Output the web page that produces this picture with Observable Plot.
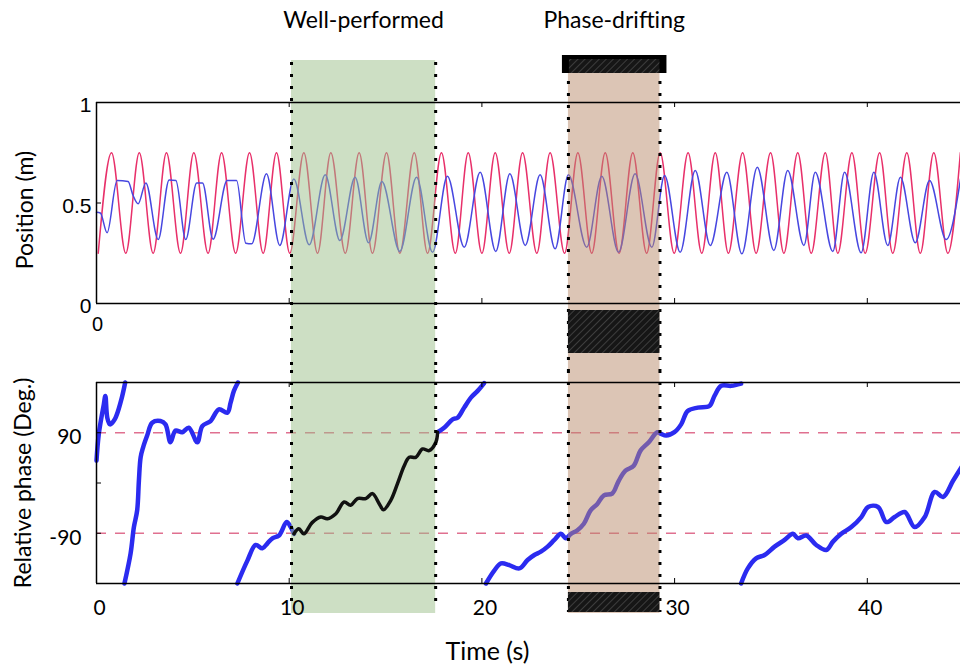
<!DOCTYPE html>
<html><head><meta charset="utf-8">
<script src="https://cdn.jsdelivr.net/npm/d3@7"></script>
<script src="https://cdn.jsdelivr.net/npm/@observablehq/plot@0.6"></script>
<style>
body{margin:0;background:#fff;}
#chart{width:960px;}
#chart svg{display:block;overflow:visible;}
</style></head><body>
<svg width="0" height="0" style="position:absolute">
<defs>
<pattern id="hatch" width="5" height="5" patternUnits="userSpaceOnUse" patternTransform="rotate(45)">
<rect width="5" height="5" fill="#161616"/>
<line x1="0" y1="0" x2="0" y2="5" stroke="#474747" stroke-width="1.6"/>
</pattern></defs></svg>
<div id="chart"></div>
<script>
// ---------- data ----------
const regionNames = ["Well-performed", "Phase-drifting"];
const regionStart = [10.12, 24.49];
const regionEnd = [17.6, 29.24];
const regionColors = ["#9bbf89", "#b98b6b"];

const xTicks = [0, 10, 20, 30, 40];
const posTicks = [0, 0.5, 1];
const phaseTicks = [-90, 0, 90];
const phaseTickLabels = [-90, 90];
const refLevels = [-90, 90];

// reference (red) extrema times (s) and levels (m)
const redPeakT = [0.78,2.22,3.63,5.05,6.49,7.94,9.34,10.76,12.16,13.63,15.05,16.49,17.90,19.29,20.69,22.11,23.54,24.98,26.40,27.83,29.25,30.70,32.11,33.53,34.98,36.39,37.82,39.20,40.64,42.05,43.45,44.83];
const redTroughT = [0.09,1.52,2.94,4.36,5.79,7.22,8.65,10.03,11.47,12.91,14.32,15.74,17.18,18.62,20.00,21.42,22.85,24.29,25.70,27.12,28.55,29.98,31.41,32.79,34.23,35.67,37.09,38.47,39.89,41.32,42.75,44.18];
const redLevels = [0.25, 0.75];

// actual (blue) position extrema
const blueT = [0,0.2,0.55,1.07,1.64,1.90,2.16,2.56,3.2,3.77,4.12,4.63,5.2,5.5,6.05,6.78,7.27,7.75,8.05,8.82,9.51,10.24,11.04,11.87,12.63,13.42,14.12,14.81,15.74,16.61,17.44,18.21,19.08,19.91,20.72,21.45,22.25,23.02,23.8,24.49,25.44,26.22,27.09,27.95,28.82,29.48,30.29,31.07,31.85,32.71,33.49,34.29,35.15,35.87,36.71,37.30,38.21,38.82,39.68,40.34,41.06,41.72,42.49,43.23,44.09,44.84];
const blueV = [0.454,0.45,0.352,0.612,0.607,0.537,0.496,0.60,0.318,0.615,0.612,0.318,0.60,0.60,0.32,0.612,0.612,0.30,0.297,0.645,0.289,0.62,0.292,0.64,0.313,0.628,0.302,0.607,0.259,0.628,0.255,0.633,0.28,0.653,0.259,0.645,0.289,0.64,0.272,0.64,0.28,0.633,0.255,0.645,0.28,0.637,0.255,0.662,0.289,0.653,0.247,0.678,0.264,0.662,0.289,0.653,0.259,0.653,0.252,0.653,0.289,0.628,0.302,0.612,0.318,0.62];

// relative phase segments [time s, deg]
const phaseSeg1 = [[0,40],[0.12,88],[0.38,141],[0.46,156],[0.56,117],[0.70,105],[0.96,115],[1.27,147],[1.49,180]];
const phaseSeg2 = [[1.45,-180],[1.77,-126],[1.94,-79],[2.11,-49],[2.2,4],[2.29,46],[2.42,64],[2.63,85],[2.89,108],[3.32,111],[3.58,105],[3.84,73],[4.10,94],[4.45,91],[4.79,99],[5.23,73],[5.49,102],[5.92,111],[6.35,132],[6.79,126],[6.96,144],[7.13,165],[7.34,180]];
const phaseSeg3a = [[7.31,-180],[7.83,-139],[8.26,-111],[8.61,-117],[8.87,-108],[9.13,-99],[9.47,-94],[9.87,-70],[10.08,-79],[10.25,-91]];
const phaseWell = [[10.25,-91],[10.5,-82],[10.76,-91],[11.19,-71],[11.64,-61],[11.98,-64],[12.42,-55],[12.85,-34],[13.19,-40],[13.54,-28],[13.97,-28],[14.32,-19],[14.67,-37],[14.89,-48],[15.27,-31],[15.62,-1],[15.97,31],[16.23,46],[16.57,46],[16.92,61],[17.26,58],[17.61,73],[17.7,91]];
const phaseSeg3b = [[17.7,91],[18.04,99],[18.48,114],[18.74,117],[19.08,135],[19.43,153],[19.78,165],[20.12,179]];
const phaseSeg4 = [[20.21,-180],[20.64,-157],[20.99,-144],[21.42,-147],[21.94,-153],[22.37,-138],[22.72,-129],[23.06,-123],[23.41,-114],[23.76,-102],[24.10,-91],[24.36,-99],[24.62,-91],[24.94,-85],[25.29,-73],[25.64,-49],[25.98,-38],[26.33,-22],[26.76,-19],[27.10,4],[27.45,22],[27.88,31],[28.23,58],[28.66,73],[29.10,91],[29.30,88],[29.56,85],[29.99,91],[30.34,105],[30.68,129],[31.20,135],[31.81,138],[32.07,156],[32.42,174],[32.94,174],[33.45,178]];
const phaseSeg5 = [[33.45,-180],[33.80,-153],[34.23,-135],[34.67,-129],[35.19,-114],[35.71,-102],[36.14,-91],[36.40,-99],[36.83,-94],[37.35,-111],[37.87,-120],[38.22,-105],[38.65,-91],[39.17,-79],[39.69,-61],[40.04,-43],[40.56,-43],[40.99,-70],[41.42,-61],[41.94,-52],[42.46,-79],[42.98,-61],[43.50,-16],[43.93,-25],[44.45,4],[44.88,28]];

// ---------- tables ----------
const regions = regionNames.map((n, i) => ({name: n, start: regionStart[i], end: regionEnd[i], color: regionColors[i], mid: (regionStart[i] + regionEnd[i]) / 2}));
const green = [regions[0]], brown = [regions[1]];
const redSeries = [...redPeakT.map(t => ({t, v: redLevels[1]})), ...redTroughT.map(t => ({t, v: redLevels[0]}))].sort((a, b) => a.t - b.t);
const blueSeries = blueT.map((t, i) => ({t, v: blueV[i]}));
const blueSegs = [phaseSeg1, phaseSeg2, phaseSeg3a, phaseSeg3b, phaseSeg4, phaseSeg5]
  .flatMap((s, k) => s.map(([t, v]) => ({t, v, k})));
const wellSeg = phaseWell.map(([t, v]) => ({t, v}));

const xDomain = [0, (960 - 96) / 19.27];
const FONT = "Lato, 'Open Sans', sans-serif";
const ARIAL = "'Liberation Sans', Arial, sans-serif";
const BLUE_PH = "#2b2bf0";

// ---------- top panel ----------
const topPlot = Plot.plot({
  width: 960, height: 370,
  marginTop: 102, marginBottom: 67, marginLeft: 96, marginRight: 0,
  x: {domain: xDomain, axis: null},
  y: {domain: [0, 1], axis: null},
  color: {type: "identity"},
  style: {fontFamily: FONT, overflow: "visible", background: "transparent", color: "#000"},
  marks: [
    Plot.line(redSeries, {x: "t", y: "v", stroke: "#e8306a", strokeWidth: 1.5, curve: "monotone-x"}),
    Plot.line(blueSeries, {x: "t", y: "v", stroke: "#4747e0", strokeWidth: 1.5, curve: "monotone-x"}),
    Plot.rect(regions, {x1: "start", x2: "end", fill: "color", fillOpacity: 0.5, insetTop: -42, insetBottom: -67}),
    Plot.ruleY([0, 1], {stroke: "#000", strokeWidth: 1.5}),
    Plot.ruleX([0], {stroke: "#000", strokeWidth: 1.5}),
    Plot.ruleX(xTicks.slice(1), {x: d => d, stroke: "#000", strokeWidth: 1, insetBottom: 196}),
    Plot.ruleX(xTicks.slice(1), {x: d => d, stroke: "#000", strokeWidth: 1, insetTop: 196}),
    Plot.ruleY([0.5], {y: d => d, stroke: "#000", strokeWidth: 1, insetRight: 859}),
    Plot.ruleX(green.flatMap(r => [r.start, r.end]), {x: d => d, stroke: "#000", strokeWidth: 3, strokeDasharray: "3,9", insetTop: -40, insetBottom: -67}),
    Plot.ruleX(brown.flatMap(r => [r.start, r.end]), {x: d => d, stroke: "#000", strokeWidth: 3, strokeDasharray: "3,9", insetTop: -45, insetBottom: -67}),
    // hatched bars
    Plot.rect(brown, {x1: "start", x2: "end", fill: "#000", insetTop: -47, insetBottom: 230, insetLeft: -6, insetRight: -7}),
    Plot.rect(brown, {x1: "start", x2: "end", fill: "url(#hatch)", insetTop: -43, insetBottom: 230, insetLeft: 1, insetRight: 0}),
    Plot.rect(brown, {x1: "start", x2: "end", fill: "url(#hatch)", insetTop: 208, insetBottom: -50}),
    // titles
    Plot.text(regions, {x: "mid", text: "name", frameAnchor: "top", lineAnchor: "middle", dy: -82, fontSize: 23}),
    // axis labels
    Plot.text(posTicks, {y: d => d, text: d => String(d), frameAnchor: "left", textAnchor: "end", lineAnchor: "middle", dx: -5, dy: 3, fontSize: 21, fontFamily: ARIAL}),
    Plot.text([0], {x: d => d, text: d => String(d), frameAnchor: "bottom", lineAnchor: "middle", dy: 21, dx: 1, fontSize: 20, fontFamily: ARIAL}),
    Plot.text(["Position (m)"], {text: d => d, frameAnchor: "left", textAnchor: "middle", lineAnchor: "middle", rotate: -90, dx: -71, dy: 7, fontSize: 23})
  ]
});

// ---------- bottom panel ----------
const botPlot = Plot.plot({
  width: 960, height: 296,
  marginTop: 12, marginBottom: 83, marginLeft: 96, marginRight: 0,
  x: {domain: xDomain, axis: null},
  y: {domain: [-180, 180], axis: null},
  color: {type: "identity"},
  style: {fontFamily: FONT, overflow: "visible", background: "transparent", color: "#000"},
  marks: [
    Plot.ruleY(refLevels, {y: d => d, stroke: "#e07090", strokeWidth: 1.5, strokeDasharray: "10,9"}),
    Plot.line(blueSegs, {x: "t", y: "v", z: "k", stroke: BLUE_PH, strokeWidth: 4.5, strokeLinecap: "round", strokeLinejoin: "round", curve: "catmull-rom"}),
    Plot.rect(regions, {x1: "start", x2: "end", fill: "color", fillOpacity: 0.5, insetTop: -12, insetBottom: -30}),
    Plot.line(wellSeg, {x: "t", y: "v", stroke: "#111", strokeWidth: 3.5, strokeLinecap: "round", strokeLinejoin: "round", curve: "catmull-rom"}),
    Plot.ruleY([-180, 180], {stroke: "#000", strokeWidth: 1.5}),
    Plot.ruleX([0], {stroke: "#000", strokeWidth: 1.5}),
    Plot.ruleX(xTicks.slice(1), {x: d => d, stroke: "#000", strokeWidth: 1, insetBottom: 196}),
    Plot.ruleX(xTicks.slice(1), {x: d => d, stroke: "#000", strokeWidth: 1, insetTop: 196}),
    Plot.ruleY(phaseTicks, {y: d => d, stroke: "#000", strokeWidth: 1, insetRight: 859}),
    Plot.ruleX(green.flatMap(r => [r.start, r.end]), {x: d => d, stroke: "#000", strokeWidth: 3, strokeDasharray: "3,9", insetTop: -12, insetBottom: -18}),
    Plot.ruleX(brown.flatMap(r => [r.start, r.end]), {x: d => d, stroke: "#000", strokeWidth: 3, strokeDasharray: "3,9", insetTop: -12, insetBottom: -29}),
    Plot.rect(brown, {x1: "start", x2: "end", fill: "url(#hatch)", insetTop: 210, insetBottom: -29}),
    Plot.text(xTicks, {x: d => d, text: d => String(d), frameAnchor: "bottom", lineAnchor: "middle", dy: 25, dx: 3, fontSize: 21}),
    Plot.text(phaseTickLabels, {y: d => d, text: d => String(d), frameAnchor: "left", textAnchor: "end", lineAnchor: "middle", dx: -15, dy: 5, fontSize: 21}),
    Plot.text(["Relative phase (Deg.)"], {text: d => d, frameAnchor: "left", textAnchor: "middle", lineAnchor: "middle", rotate: -90, dx: -73, fontSize: 23}),
    Plot.text(["Time (s)"], {text: d => d, frameAnchor: "bottom", lineAnchor: "middle", dx: -41, dy: 68, fontSize: 25})
  ]
});

const chart = document.getElementById("chart");
chart.appendChild(topPlot);
chart.appendChild(botPlot);
</script>
</body></html>
